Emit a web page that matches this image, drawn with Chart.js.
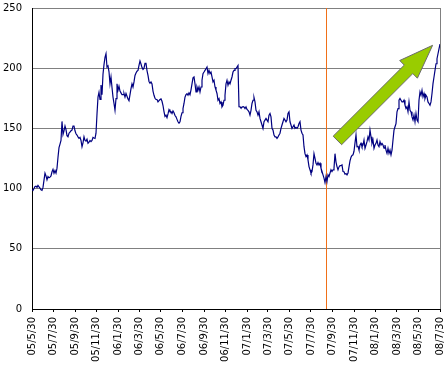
<!DOCTYPE html>
<html>
<head>
<meta charset="utf-8">
<script src="https://cdn.jsdelivr.net/npm/chart.js@4.4.0/dist/chart.umd.min.js"></script>
<style>
  html, body { margin: 0; padding: 0; background: #fff; }
  #wrap { width: 446px; height: 369px; }
</style>
</head>
<body>
<div id="wrap"><canvas id="chart"></canvas></div>
<script>
// date labels on the x axis (yy/m/d)
const tickDates = ['05/5/30', '05/7/30', '05/9/30', '05/11/30', '06/1/30', '06/3/30', '06/5/30',
  '06/7/30', '06/9/30', '06/11/30', '07/1/30', '07/3/30', '07/5/30', '07/7/30', '07/9/30',
  '07/11/30', '08/1/30', '08/3/30', '08/5/30', '08/7/30'];
const yTicks = [0, 50, 100, 150, 200, 250];

// series: evenly spaced samples from 05/5/30 to 08/7/30
const price = [
  99, 98.5, 100, 101.8, 102, 101, 102.6, 101.5, 100.4, 99,
  98.5, 101, 107, 112.8, 110.6, 107.3, 110, 109, 109.5, 110.5,
  114, 116, 112.8, 115, 112.8, 117, 126, 134, 137, 140,
  155.8, 145, 148, 152, 149, 144, 143, 146, 147, 148,
  148.6, 152, 152, 148, 145.5, 144.5, 143, 141.7, 142.5, 140,
  134.8, 138, 143, 140, 139.5, 141, 137.6, 138.5, 140, 139,
  140, 142.5, 142, 141.7, 146, 162, 176, 180, 174, 186,
  178, 195, 203, 209, 212, 201, 202, 197, 187, 192.7,
  184,
  176, 170.7, 165, 174.8, 187, 181.7, 185, 181, 179.5, 178,
  178, 179, 176, 179, 179, 174.5, 173, 178, 183, 187,
  184.4, 188.6, 194, 196, 197.5, 198.2, 202.3, 206, 203.5, 200.5,
  199, 200, 204, 204, 198, 194, 189, 187.5, 188.6, 187,
  181, 177.5, 175, 174, 174, 172, 173, 174, 174.5, 172.5,
  169, 164, 160, 161, 159, 162, 165.6, 164, 164, 162.4,
  164.5, 163, 160.7, 159.6, 157.5, 155.5, 154.3, 155.5, 160, 163,
  166.5, 170.7, 176, 178, 178.8, 177.5, 179.5, 178, 182, 187,
  192, 192.7,
  187, 180.3, 184.4, 181.7, 184.4, 180.3, 184.4, 190, 195.5, 196.8,
  198.2, 199.6, 201, 195.5, 198.2, 195.5, 196.8, 192.7, 188.6, 190,
  184.4, 181.7, 179, 173.4, 174.8, 170.7, 172, 167.9, 169.3, 173.4,
  177.5, 187, 190, 185.8, 188.6, 187, 190, 192.7, 196.8, 198.2,
  199.6, 199.6, 201, 202.3, 168, 167.9, 167, 167.5, 168, 167.9,
  166.5, 167.9, 165.7, 165, 163.8, 161, 165, 170.7, 173.4, 175.6,
  172, 165, 163.8, 161, 163.8, 158.3, 155.5, 152.8, 150, 155.5,
  156.9, 158.3, 156.9, 155.5, 161, 162.4, 159.6, 150, 148.6, 144.5,
  143, 143,
  141.7, 143, 144.5, 146, 150, 152.8, 155.5, 158.3, 156.9, 155.5,
  156.9, 162.4, 163.8, 155.5, 152.8, 150, 151.4, 152.8, 150, 150.8,
  150, 151.4, 154, 155.5, 148.6, 146, 144.5, 134.8, 129, 126.6,
  128, 123.8, 118.3, 115.6, 112.8, 114.2, 119.7, 129, 125.2, 121,
  119.7, 121.6, 119.7, 121, 117, 114.2, 111.4, 108.7, 105, 110,
  105.9, 111.4, 110, 112.8, 115.6, 114.2, 115.6, 117, 129, 122,
  118.3, 115.6, 118, 119, 119, 119.7, 114.2, 114, 112, 112.5,
  111.4, 113, 118, 123, 126, 127.5, 128, 131, 138, 144.5,
  134.8, 135,
  132, 136.2, 137.6, 134.8, 136.2, 140.4, 133.5, 136.2, 139, 143,
  140.4, 148.6, 143, 137.6, 140.4, 133.5, 136.2, 137.6, 140.4, 136.2,
  134.8, 139, 136.2, 137.6, 136.2, 133.5, 136.2, 132, 129.3, 133.5,
  129.3, 132, 128, 132, 140.4, 148.6, 151.4, 154, 163.8, 166.5,
  173.4, 174.8, 173.4, 172, 172, 173.4, 169.3, 166.5, 168, 163.8,
  172, 165, 163.8, 159.6, 157, 161, 155.5, 162.4, 157, 155.5,
  173.4, 180.3, 177.5, 181.7, 176.2, 179, 174.8, 177.5, 176.2, 172,
  170.7, 169.3, 172, 179, 187.2, 192.7, 198.2, 203.7, 207.9, 212,
  216, 220
];

// vertical marker and trend arrow (dates yy/m/d, arrow ends in chart values)
const markerDate = '07/9/12';
const arrowFrom = { date: '07/10/13', value: 140 };
const arrowTo = { date: '08/7/9', value: 219 };

const toDay = (s) => {
  const [yy, m, d] = s.split('/').map(Number);
  return (Date.UTC(2000 + yy, m - 1, d) - Date.UTC(2005, 4, 30)) / 86400000;
};
const lastDay = toDay(tickDates[tickDates.length - 1]);
const tickDays = tickDates.map(toDay);
const points = price.map((v, i) => ({ x: i * lastDay / (price.length - 1), y: v }));

const extras = {
  id: 'extras',
  beforeDatasetsDraw(chart) {
    const { ctx, chartArea: a, scales: { x } } = chart;
    ctx.save();
    // right frame line
    ctx.strokeStyle = '#808080';
    ctx.lineWidth = 1;
    ctx.beginPath();
    ctx.moveTo(Math.round(a.right) + 0.5, a.top);
    ctx.lineTo(Math.round(a.right) + 0.5, a.bottom);
    ctx.stroke();
    // event marker
    const mx = Math.round(x.getPixelForValue(toDay(markerDate))) + 0.5;
    ctx.strokeStyle = '#F07018';
    ctx.beginPath();
    ctx.moveTo(mx, a.top);
    ctx.lineTo(mx, a.bottom);
    ctx.stroke();
    ctx.restore();
  },
  afterDatasetsDraw(chart) {
    const { ctx, scales: { x, y } } = chart;
    const tx = x.getPixelForValue(toDay(arrowFrom.date)), ty = y.getPixelForValue(arrowFrom.value);
    const px = x.getPixelForValue(toDay(arrowTo.date)), py = y.getPixelForValue(arrowTo.value);
    const len = Math.hypot(px - tx, py - ty);
    const ux = (px - tx) / len, uy = (py - ty) / len;
    const nx = -uy, ny = ux;
    const shaft = 6, head = 12.5, headLen = 34;
    const hx = px - ux * headLen, hy = py - uy * headLen;
    ctx.save();
    ctx.beginPath();
    ctx.moveTo(tx + nx * shaft, ty + ny * shaft);
    ctx.lineTo(hx + nx * shaft, hy + ny * shaft);
    ctx.lineTo(hx + nx * head, hy + ny * head);
    ctx.lineTo(px, py);
    ctx.lineTo(hx - nx * head, hy - ny * head);
    ctx.lineTo(hx - nx * shaft, hy - ny * shaft);
    ctx.lineTo(tx - nx * shaft, ty - ny * shaft);
    ctx.closePath();
    ctx.fillStyle = '#99CC00';
    ctx.fill();
    ctx.strokeStyle = '#6B6B6B';
    ctx.lineWidth = 1;
    ctx.stroke();
    ctx.restore();
  }
};

const tickFont = { family: 'DejaVu Sans', size: 10 };

new Chart(document.getElementById('chart'), {
  type: 'line',
  data: {
    datasets: [{
      data: points,
      borderColor: '#000080',
      borderWidth: 1.2,
      pointRadius: 0,
      tension: 0,
      fill: false
    }]
  },
  plugins: [extras],
  options: {
    responsive: true,
    maintainAspectRatio: false,
    animation: false,
    layout: { padding: { left: 0, right: 6, top: 8, bottom: 0 } },
    plugins: { legend: { display: false }, tooltip: { enabled: false } },
    scales: {
      x: {
        type: 'linear',
        min: 0,
        max: lastDay,
        afterBuildTicks: (scale) => { scale.ticks = tickDays.map(v => ({ value: v })); },
        afterFit: (scale) => {
          scale.height = 60;
          scale.paddingLeft = 0;
          scale.paddingRight = 0;
        },
        ticks: {
          autoSkip: false,
          minRotation: 90,
          maxRotation: 90,
          padding: 5,
          color: '#000',
          font: tickFont,
          callback: (v, i) => tickDates[i]
        },
        grid: { drawOnChartArea: false, drawTicks: true, tickLength: 3, color: '#000' },
        border: { color: '#000', width: 1 }
      },
      y: {
        min: 0,
        max: 250,
        afterBuildTicks: (scale) => { scale.ticks = yTicks.map(v => ({ value: v })); },
        afterFit: (scale) => {
          scale.width = 32;
          scale.paddingTop = 0;
          scale.paddingBottom = 0;
        },
        ticks: { padding: 10, color: '#000', font: tickFont },
        grid: { color: '#808080', drawTicks: false },
        border: { color: '#000', width: 1 }
      }
    }
  }
});
</script>
</body>
</html>
